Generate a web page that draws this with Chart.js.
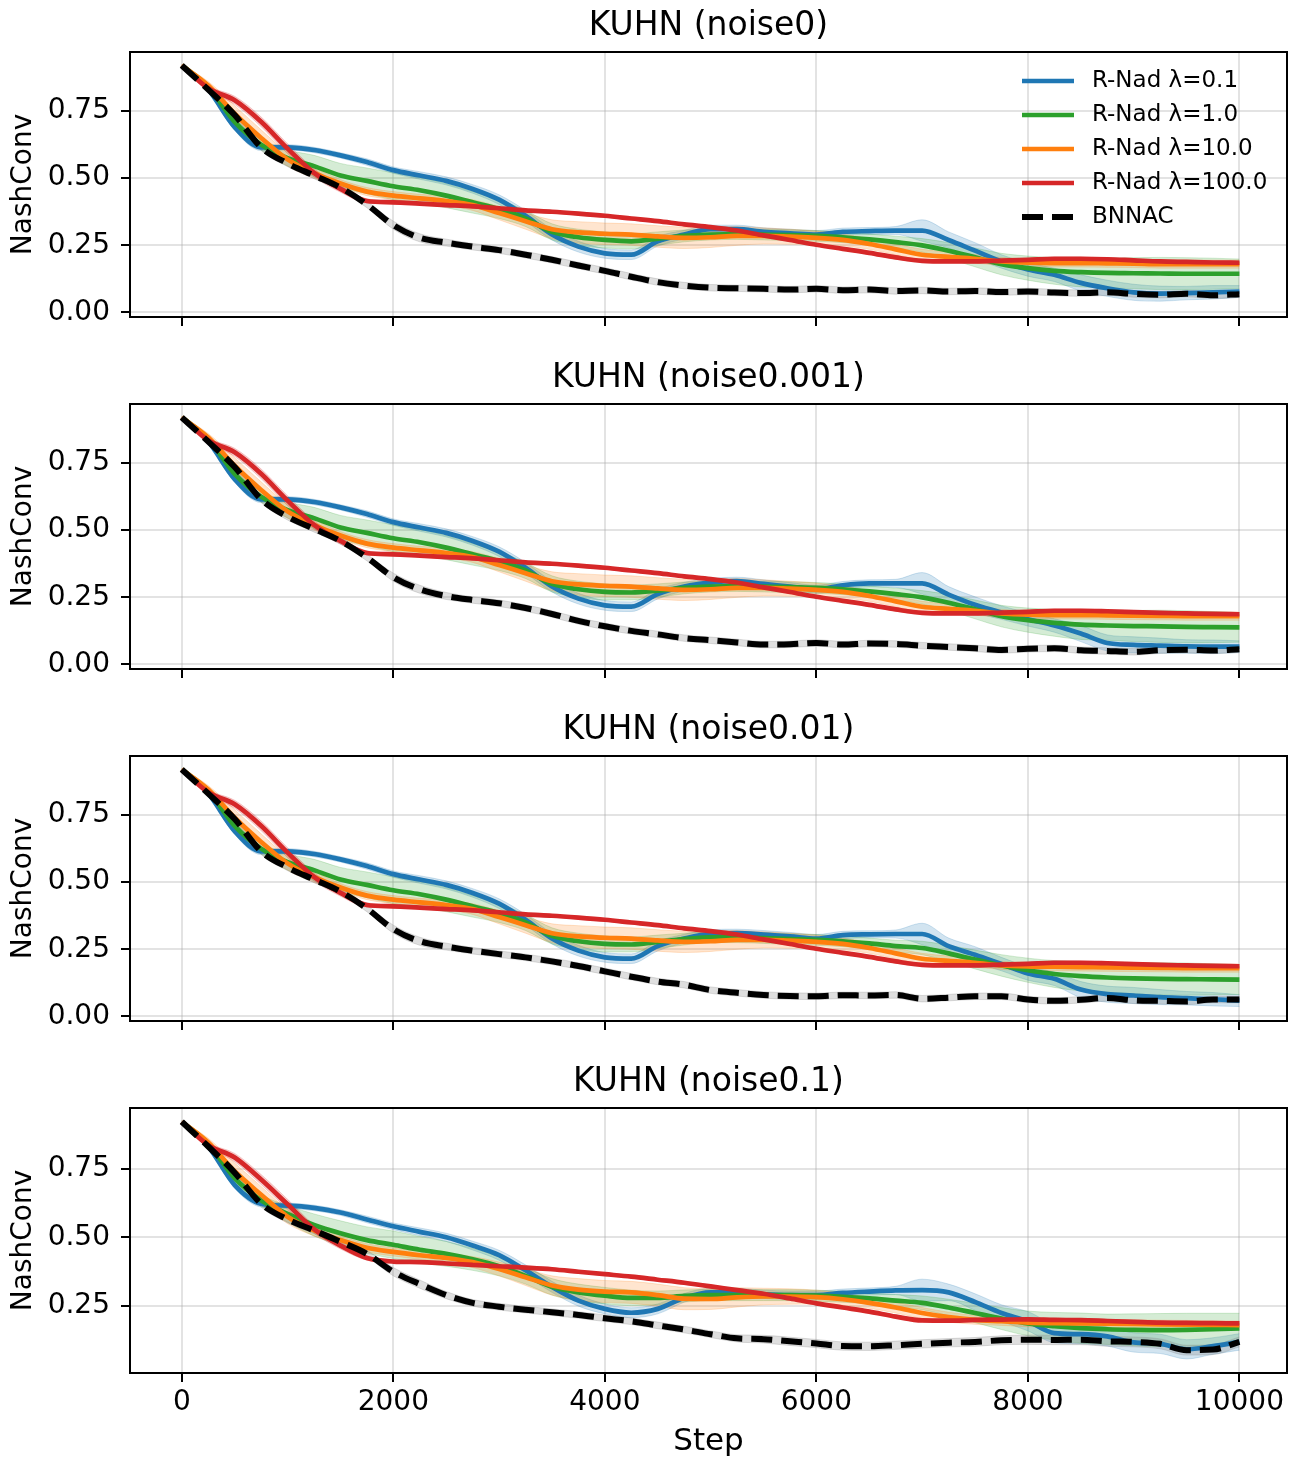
<!DOCTYPE html>
<html>
<head>
<meta charset="utf-8">
<script src="https://cdn.jsdelivr.net/npm/chart.js@4.4.1/dist/chart.umd.min.js"></script>
<style>
  body { margin: 0; background: #fff; }
  #fig { position: relative; width: 1298px; height: 1462px; }
  #fig canvas { position: absolute; left: 0; }
</style>
</head>
<body>
<div id="fig">
  <canvas id="p0" width="1298" height="352" style="top:0px"></canvas>
  <canvas id="p1" width="1298" height="352" style="top:352px"></canvas>
  <canvas id="p2" width="1298" height="352" style="top:704px"></canvas>
  <canvas id="p3" width="1298" height="406" style="top:1056px"></canvas>
</div>
<script>
// x positions (training step) shared by every curve
const steps = [0, 250, 500, 750, 1000, 1250, 1500, 1750, 2000, 2250,
  2500, 2750, 3000, 3250, 3500, 3750, 4000, 4250, 4500, 4750,
  5000, 5250, 5500, 5750, 6000, 6250, 6500, 6750, 7000, 7250,
  7500, 7750, 8000, 8250, 8500, 8750, 9000, 9250, 9500, 9750, 10000];

const xTicks = [0, 2000, 4000, 6000, 8000, 10000];
const yTicksFull = [0, 0.25, 0.5, 0.75];
const yTicksLast = [0.25, 0.5, 0.75];

const seriesNames = ['R-Nad \u03bb=0.1', 'R-Nad \u03bb=1.0', 'R-Nad \u03bb=10.0', 'R-Nad \u03bb=100.0', 'BNNAC'];
const lineColors = ['#1f77b4', '#2ca02c', '#ff7f0e', '#d62728', '#000000'];
const bandColors = ['rgba(31,119,180,0.2)', 'rgba(44,160,44,0.2)', 'rgba(255,127,14,0.2)',
  'rgba(214,39,40,0.2)', 'rgba(128,128,128,0.25)'];

// --- KUHN (noise0)
const kuhn0Blue = [0.92, 0.83, 0.69, 0.615, 0.615, 0.605, 0.585, 0.56, 0.53, 0.51,
  0.49, 0.46, 0.42, 0.36, 0.29, 0.245, 0.22, 0.215, 0.265, 0.29,
  0.31, 0.31, 0.30, 0.295, 0.29, 0.30, 0.303, 0.305, 0.305, 0.27,
  0.23, 0.19, 0.16, 0.14, 0.11, 0.09, 0.075, 0.07, 0.072, 0.075, 0.078];
const kuhn0Green = [0.92, 0.84, 0.71, 0.625, 0.575, 0.545, 0.51, 0.49, 0.47, 0.455,
  0.435, 0.41, 0.385, 0.35, 0.30, 0.28, 0.27, 0.265, 0.275, 0.285,
  0.29, 0.292, 0.29, 0.288, 0.285, 0.28, 0.272, 0.262, 0.25, 0.23,
  0.205, 0.18, 0.165, 0.155, 0.15, 0.147, 0.146, 0.145, 0.144, 0.144, 0.144];
const kuhn0Orange = [0.92, 0.845, 0.74, 0.65, 0.57, 0.52, 0.48, 0.45, 0.435, 0.425,
  0.415, 0.40, 0.37, 0.34, 0.31, 0.298, 0.293, 0.29, 0.283, 0.278,
  0.28, 0.285, 0.285, 0.282, 0.278, 0.27, 0.255, 0.235, 0.215, 0.207,
  0.20, 0.19, 0.185, 0.184, 0.184, 0.183, 0.182, 0.18, 0.18, 0.18, 0.18];
const kuhn0Red = [0.92, 0.835, 0.79, 0.71, 0.61, 0.52, 0.46, 0.415, 0.41, 0.405,
  0.40, 0.395, 0.388, 0.38, 0.375, 0.368, 0.36, 0.35, 0.34, 0.328,
  0.318, 0.305, 0.287, 0.27, 0.252, 0.237, 0.222, 0.205, 0.192, 0.19,
  0.19, 0.193, 0.196, 0.2, 0.2, 0.198, 0.194, 0.19, 0.188, 0.186, 0.185];
const kuhn0Bnnac = [0.92, 0.83, 0.735, 0.615, 0.555, 0.51, 0.465, 0.402, 0.325, 0.278,
  0.26, 0.245, 0.232, 0.215, 0.196, 0.175, 0.155, 0.133, 0.113, 0.10,
  0.092, 0.09, 0.088, 0.085, 0.088, 0.083, 0.085, 0.08, 0.082, 0.078,
  0.08, 0.076, 0.078, 0.074, 0.072, 0.075, 0.069, 0.066, 0.07, 0.064, 0.068];

// --- KUHN (noise0.001)
const kuhn0001Blue = [0.92, 0.83, 0.69, 0.615, 0.615, 0.605, 0.585, 0.56, 0.53, 0.51,
  0.49, 0.46, 0.42, 0.36, 0.29, 0.245, 0.22, 0.215, 0.262, 0.29,
  0.305, 0.31, 0.30, 0.29, 0.28, 0.295, 0.302, 0.302, 0.302, 0.26,
  0.222, 0.193, 0.168, 0.145, 0.115, 0.08, 0.073, 0.07, 0.067, 0.066, 0.066];
const kuhn0001Green = [0.92, 0.84, 0.71, 0.625, 0.575, 0.545, 0.51, 0.49, 0.47, 0.455,
  0.435, 0.41, 0.385, 0.35, 0.30, 0.28, 0.27, 0.268, 0.275, 0.285,
  0.29, 0.292, 0.29, 0.288, 0.285, 0.28, 0.272, 0.262, 0.25, 0.23,
  0.205, 0.18, 0.165, 0.155, 0.148, 0.145, 0.143, 0.142, 0.14, 0.139, 0.138];
const kuhn0001Orange = [0.92, 0.845, 0.74, 0.65, 0.57, 0.52, 0.48, 0.45, 0.435, 0.425,
  0.415, 0.40, 0.37, 0.34, 0.31, 0.298, 0.293, 0.29, 0.283, 0.278,
  0.28, 0.285, 0.285, 0.282, 0.278, 0.27, 0.255, 0.235, 0.215, 0.207,
  0.20, 0.19, 0.185, 0.184, 0.184, 0.183, 0.182, 0.181, 0.18, 0.18, 0.18];
const kuhn0001Red = [0.92, 0.835, 0.79, 0.71, 0.61, 0.52, 0.46, 0.415, 0.41, 0.405,
  0.40, 0.395, 0.388, 0.38, 0.375, 0.368, 0.36, 0.35, 0.34, 0.328,
  0.318, 0.305, 0.287, 0.27, 0.252, 0.237, 0.222, 0.205, 0.192, 0.19,
  0.19, 0.193, 0.196, 0.2, 0.2, 0.198, 0.195, 0.192, 0.19, 0.188, 0.187];
const kuhn0001Bnnac = [0.92, 0.83, 0.735, 0.615, 0.55, 0.505, 0.46, 0.398, 0.325, 0.28,
  0.255, 0.24, 0.228, 0.21, 0.188, 0.162, 0.142, 0.125, 0.112, 0.098,
  0.09, 0.082, 0.074, 0.075, 0.08, 0.074, 0.078, 0.076, 0.07, 0.065,
  0.06, 0.054, 0.058, 0.06, 0.053, 0.05, 0.047, 0.053, 0.055, 0.052, 0.057];

// --- KUHN (noise0.01)
const kuhn001Blue = [0.92, 0.83, 0.69, 0.615, 0.615, 0.605, 0.585, 0.56, 0.53, 0.51,
  0.49, 0.46, 0.42, 0.36, 0.29, 0.245, 0.22, 0.215, 0.262, 0.29,
  0.308, 0.31, 0.305, 0.298, 0.29, 0.303, 0.306, 0.307, 0.307, 0.262,
  0.23, 0.195, 0.16, 0.14, 0.10, 0.083, 0.078, 0.072, 0.068, 0.064, 0.059];
const kuhn001Green = [0.92, 0.84, 0.71, 0.625, 0.575, 0.545, 0.51, 0.49, 0.47, 0.455,
  0.435, 0.41, 0.385, 0.35, 0.30, 0.28, 0.27, 0.268, 0.278, 0.288,
  0.295, 0.295, 0.292, 0.288, 0.285, 0.28, 0.272, 0.262, 0.255, 0.235,
  0.212, 0.19, 0.172, 0.158, 0.15, 0.145, 0.142, 0.14, 0.139, 0.138, 0.137];
const kuhn001Orange = [0.92, 0.845, 0.74, 0.65, 0.57, 0.52, 0.48, 0.45, 0.435, 0.425,
  0.415, 0.40, 0.37, 0.34, 0.31, 0.298, 0.293, 0.29, 0.283, 0.278,
  0.28, 0.285, 0.285, 0.282, 0.278, 0.27, 0.255, 0.235, 0.215, 0.207,
  0.20, 0.19, 0.186, 0.185, 0.184, 0.183, 0.182, 0.181, 0.18, 0.18, 0.18];
const kuhn001Red = [0.92, 0.835, 0.79, 0.71, 0.61, 0.52, 0.46, 0.415, 0.41, 0.405,
  0.40, 0.395, 0.388, 0.38, 0.375, 0.368, 0.36, 0.35, 0.34, 0.328,
  0.318, 0.305, 0.287, 0.27, 0.252, 0.237, 0.222, 0.205, 0.192, 0.19,
  0.19, 0.193, 0.196, 0.2, 0.2, 0.198, 0.195, 0.192, 0.19, 0.188, 0.187];
const kuhn001Bnnac = [0.92, 0.83, 0.735, 0.615, 0.555, 0.51, 0.465, 0.402, 0.325, 0.28,
  0.26, 0.245, 0.232, 0.22, 0.205, 0.188, 0.168, 0.148, 0.13, 0.118,
  0.098, 0.088, 0.08, 0.076, 0.075, 0.079, 0.078, 0.08, 0.066, 0.07,
  0.075, 0.075, 0.063, 0.058, 0.062, 0.069, 0.06, 0.058, 0.056, 0.063, 0.063];

// --- KUHN (noise0.1)
const kuhn01Blue = [0.92, 0.83, 0.69, 0.622, 0.615, 0.607, 0.59, 0.565, 0.54, 0.52,
  0.50, 0.47, 0.435, 0.38, 0.32, 0.27, 0.24, 0.226, 0.24, 0.28,
  0.30, 0.30, 0.293, 0.29, 0.29, 0.298, 0.303, 0.307, 0.308, 0.30,
  0.265, 0.225, 0.195, 0.152, 0.148, 0.14, 0.118, 0.113, 0.093, 0.105, 0.12];
const kuhn01Green = [0.92, 0.84, 0.715, 0.635, 0.585, 0.545, 0.515, 0.49, 0.473, 0.455,
  0.44, 0.42, 0.395, 0.36, 0.32, 0.30, 0.288, 0.28, 0.28, 0.287,
  0.29, 0.29, 0.29, 0.29, 0.288, 0.284, 0.278, 0.27, 0.262, 0.245,
  0.225, 0.205, 0.187, 0.177, 0.17, 0.166, 0.164, 0.163, 0.164, 0.166, 0.169];
const kuhn01Orange = [0.92, 0.845, 0.74, 0.655, 0.575, 0.525, 0.49, 0.462, 0.447, 0.435,
  0.425, 0.41, 0.385, 0.355, 0.325, 0.31, 0.303, 0.3, 0.29, 0.277,
  0.276, 0.282, 0.285, 0.285, 0.283, 0.275, 0.262, 0.245, 0.225, 0.21,
  0.2, 0.195, 0.19, 0.188, 0.187, 0.186, 0.185, 0.184, 0.183, 0.182, 0.181];
const kuhn01Red = [0.92, 0.835, 0.79, 0.71, 0.62, 0.53, 0.47, 0.425, 0.412, 0.41,
  0.405, 0.4, 0.395, 0.39, 0.384, 0.375, 0.366, 0.357, 0.346, 0.335,
  0.322, 0.308, 0.295, 0.278, 0.26, 0.245, 0.23, 0.212, 0.198, 0.197,
  0.2, 0.201, 0.202, 0.2, 0.199, 0.196, 0.193, 0.19, 0.189, 0.188, 0.187];
const kuhn01Bnnac = [0.92, 0.83, 0.735, 0.622, 0.565, 0.525, 0.484, 0.44, 0.375, 0.33,
  0.29, 0.262, 0.248, 0.237, 0.228, 0.218, 0.206, 0.195, 0.18, 0.165,
  0.148, 0.133, 0.13, 0.122, 0.114, 0.105, 0.104, 0.108, 0.113, 0.117,
  0.12, 0.126, 0.128, 0.127, 0.128, 0.122, 0.12, 0.113, 0.09, 0.092, 0.12];

// half-widths of the shaded bands
const spreadBlue = [0.003, 0.008, 0.012, 0.012, 0.01, 0.01, 0.01, 0.012, 0.012, 0.014,
  0.015, 0.016, 0.018, 0.02, 0.02, 0.02, 0.018, 0.018, 0.018, 0.016,
  0.015, 0.015, 0.015, 0.015, 0.015, 0.014, 0.013, 0.015, 0.04, 0.03,
  0.03, 0.025, 0.025, 0.025, 0.03, 0.03, 0.03, 0.028, 0.025, 0.025, 0.022];
const spreadBlueWide = [0.003, 0.008, 0.012, 0.012, 0.01, 0.01, 0.01, 0.012, 0.012, 0.014,
  0.015, 0.016, 0.018, 0.02, 0.02, 0.02, 0.018, 0.018, 0.018, 0.016,
  0.015, 0.015, 0.015, 0.015, 0.015, 0.014, 0.013, 0.015, 0.04, 0.03,
  0.03, 0.03, 0.035, 0.035, 0.035, 0.035, 0.035, 0.035, 0.035, 0.03, 0.03];
const spreadGreen = [0.003, 0.008, 0.015, 0.02, 0.03, 0.04, 0.045, 0.048, 0.05, 0.048,
  0.045, 0.04, 0.035, 0.03, 0.03, 0.03, 0.03, 0.028, 0.025, 0.022,
  0.02, 0.02, 0.02, 0.02, 0.02, 0.02, 0.02, 0.022, 0.025, 0.03,
  0.035, 0.04, 0.045, 0.05, 0.055, 0.055, 0.058, 0.06, 0.06, 0.058, 0.055];
const spreadOrange = [0.003, 0.015, 0.03, 0.03, 0.025, 0.02, 0.015, 0.015, 0.015, 0.015,
  0.018, 0.02, 0.025, 0.03, 0.035, 0.04, 0.04, 0.04, 0.04, 0.04,
  0.038, 0.035, 0.03, 0.028, 0.025, 0.022, 0.02, 0.02, 0.02, 0.018,
  0.016, 0.015, 0.015, 0.015, 0.015, 0.015, 0.015, 0.015, 0.015, 0.015, 0.015];
const spreadRed = [0.003, 0.008, 0.015, 0.018, 0.018, 0.015, 0.012, 0.008, 0.006, 0.005,
  0.005, 0.005, 0.005, 0.005, 0.005, 0.005, 0.005, 0.005, 0.005, 0.005,
  0.005, 0.005, 0.005, 0.005, 0.005, 0.005, 0.005, 0.006, 0.006, 0.006,
  0.006, 0.006, 0.006, 0.006, 0.006, 0.006, 0.006, 0.006, 0.006, 0.006, 0.006];
const spreadBnnac = [0.003, 0.008, 0.01, 0.012, 0.012, 0.012, 0.012, 0.012, 0.015, 0.015,
  0.013, 0.012, 0.012, 0.012, 0.012, 0.012, 0.012, 0.012, 0.012, 0.012,
  0.012, 0.012, 0.012, 0.012, 0.012, 0.012, 0.012, 0.012, 0.012, 0.012,
  0.012, 0.012, 0.012, 0.012, 0.012, 0.012, 0.012, 0.012, 0.012, 0.012, 0.012];
const spreadBnnacWide = [0.003, 0.008, 0.01, 0.012, 0.012, 0.012, 0.012, 0.012, 0.015, 0.015,
  0.013, 0.012, 0.012, 0.012, 0.012, 0.012, 0.012, 0.012, 0.012, 0.012,
  0.012, 0.013, 0.014, 0.015, 0.015, 0.015, 0.015, 0.015, 0.015, 0.015,
  0.016, 0.016, 0.017, 0.017, 0.018, 0.018, 0.018, 0.018, 0.018, 0.018, 0.018];

const panels = [
  { id: 'p0', title: 'KUHN (noise0)', yMin: -0.017, yMax: 0.97, yTicks: yTicksFull,
    series: [kuhn0Blue, kuhn0Green, kuhn0Orange, kuhn0Red, kuhn0Bnnac],
    spreads: [spreadBlue, spreadGreen, spreadOrange, spreadRed, spreadBnnac] },
  { id: 'p1', title: 'KUHN (noise0.001)', yMin: -0.017, yMax: 0.97, yTicks: yTicksFull,
    series: [kuhn0001Blue, kuhn0001Green, kuhn0001Orange, kuhn0001Red, kuhn0001Bnnac],
    spreads: [spreadBlue, spreadGreen, spreadOrange, spreadRed, spreadBnnac] },
  { id: 'p2', title: 'KUHN (noise0.01)', yMin: -0.017, yMax: 0.97, yTicks: yTicksFull,
    series: [kuhn001Blue, kuhn001Green, kuhn001Orange, kuhn001Red, kuhn001Bnnac],
    spreads: [spreadBlue, spreadGreen, spreadOrange, spreadRed, spreadBnnac] },
  { id: 'p3', title: 'KUHN (noise0.1)', yMin: 0.007, yMax: 0.97, yTicks: yTicksLast,
    series: [kuhn01Blue, kuhn01Green, kuhn01Orange, kuhn01Red, kuhn01Bnnac],
    spreads: [spreadBlueWide, spreadGreen, spreadOrange, spreadRed, spreadBnnacWide] }
];

Chart.defaults.font.family = '"DejaVu Sans", sans-serif';
Chart.defaults.color = '#000';

const gridColor = 'rgba(176,176,176,0.35)';
const lineWidths = [4.7, 4.7, 4.7, 4.7, 6];
const bnnacDash = [21, 9];

// full box around the axes, like matplotlib spines
const framePlugin = {
  id: 'frame',
  afterDatasetsDraw(chart) {
    const { ctx, chartArea: a } = chart;
    ctx.save();
    ctx.strokeStyle = '#000';
    ctx.lineWidth = 2;
    ctx.strokeRect(a.left, a.top, a.right - a.left, a.bottom - a.top);
    ctx.restore();
  }
};

// legend in the upper right of the first panel, no frame
const cornerLegend = {
  id: 'cornerLegend',
  afterDraw(chart) {
    const { ctx, chartArea: a } = chart;
    ctx.save();
    ctx.font = '23px "DejaVu Sans"';
    ctx.textBaseline = 'middle';
    ctx.textAlign = 'left';
    seriesNames.forEach((name, i) => {
      const y = a.top + 29 + i * 34;
      const x0 = a.right - 265;
      ctx.beginPath();
      ctx.setLineDash(i === 4 ? bnnacDash : []);
      ctx.strokeStyle = lineColors[i];
      ctx.lineWidth = lineWidths[i];
      ctx.moveTo(x0, y);
      ctx.lineTo(x0 + 52, y);
      ctx.stroke();
      ctx.setLineDash([]);
      ctx.fillStyle = '#000';
      ctx.fillText(name, x0 + 70, y);
    });
    ctx.restore();
  }
};

function buildDatasets(p) {
  const datasets = [];
  // bands first (drawn underneath the lines)
  seriesNames.forEach((name, i) => {
    const mean = p.series[i], sd = p.spreads[i];
    datasets.push({
      data: steps.map((x, k) => ({ x: x, y: mean[k] - sd[k] })),
      borderColor: bandColors[i], borderWidth: 1, pointRadius: 0,
      cubicInterpolationMode: 'monotone', fill: false, order: 20 - 2 * i
    });
    datasets.push({
      data: steps.map((x, k) => ({ x: x, y: mean[k] + sd[k] })),
      borderColor: bandColors[i], borderWidth: 1, pointRadius: 0,
      cubicInterpolationMode: 'monotone', fill: '-1', backgroundColor: bandColors[i],
      order: 19 - 2 * i
    });
  });
  seriesNames.forEach((name, i) => {
    datasets.push({
      label: name,
      data: steps.map((x, k) => ({ x: x, y: p.series[i][k] })),
      borderColor: lineColors[i],
      borderWidth: lineWidths[i],
      borderDash: i === 4 ? bnnacDash : [],
      pointRadius: 0,
      cubicInterpolationMode: 'monotone',
      fill: false,
      order: 4 - i
    });
  });
  return datasets;
}

panels.forEach((p, idx) => {
  const last = idx === panels.length - 1;
  new Chart(document.getElementById(p.id), {
    type: 'line',
    data: { datasets: buildDatasets(p) },
    plugins: idx === 0 ? [framePlugin, cornerLegend] : [framePlugin],
    options: {
      responsive: false,
      animation: false,
      events: [],
      layout: { padding: { left: 0, right: 11, top: 0, bottom: 0 } },
      plugins: {
        legend: { display: false },
        tooltip: { enabled: false },
        title: {
          display: true, text: p.title, fullSize: false, color: '#000',
          font: { size: 33, weight: 'normal' }, padding: { top: 7, bottom: 5.4 }
        }
      },
      scales: {
        x: {
          type: 'linear', min: -490, max: 10450,
          afterBuildTicks: s => { s.ticks = xTicks.map(v => ({ value: v })); },
          afterFit: s => { s.height = last ? 89 : 35; },
          ticks: { display: last, autoSkip: false, maxRotation: 0, padding: 4,
            font: { size: 28 }, color: '#000', callback: v => String(v) },
          grid: { color: gridColor, lineWidth: 2, tickLength: 9, tickColor: '#000', tickWidth: 2 },
          border: { display: false },
          title: { display: last, text: 'Step', color: '#000', font: { size: 31 },
            padding: { top: 0, bottom: 1.4 } }
        },
        y: {
          min: p.yMin, max: p.yMax,
          afterBuildTicks: s => { s.ticks = p.yTicks.map(v => ({ value: v })); },
          afterFit: s => { s.width = 130; },
          ticks: { padding: 11, font: { size: 28 }, color: '#000', callback: v => v.toFixed(2) },
          grid: { color: gridColor, lineWidth: 2, tickLength: 9, tickColor: '#000', tickWidth: 2 },
          border: { display: false },
          title: { display: true, text: 'NashConv', color: '#000', font: { size: 28 },
            padding: { top: 7, bottom: 0 } }
        }
      }
    }
  });
});
</script>
</body>
</html>
